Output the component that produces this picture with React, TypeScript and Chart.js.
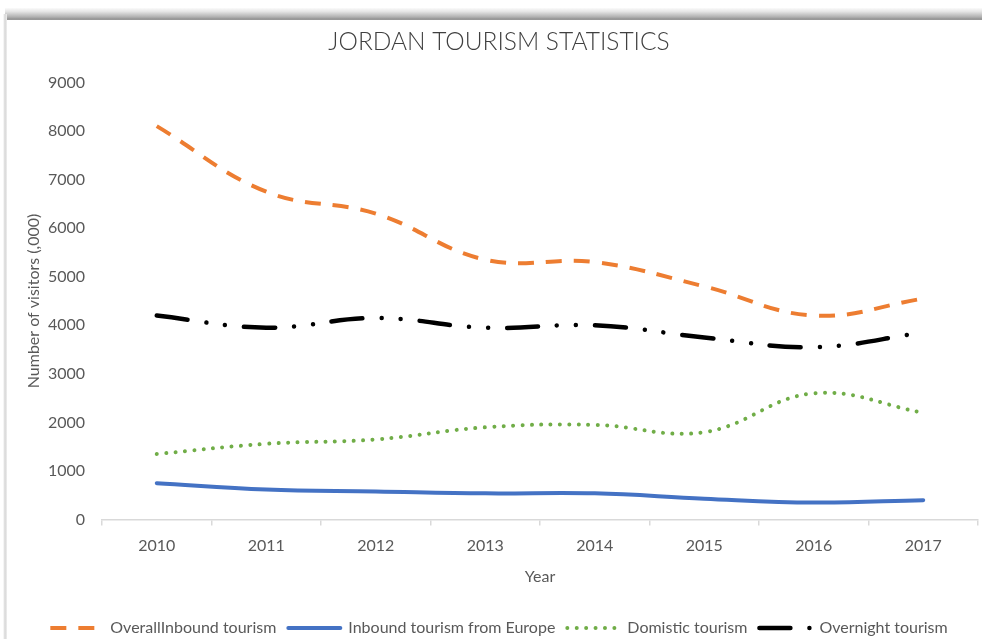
import { useEffect, useRef } from "react";
import { Chart, registerables } from "chart.js";

Chart.register(...registerables);

const years = ["2010", "2011", "2012", "2013", "2014", "2015", "2016", "2017"];
const overallInbound = [8100, 6750, 6300, 5350, 5300, 4800, 4200, 4550];
const inboundEurope = [750, 620, 580, 540, 540, 430, 350, 400];
const domestic = [1350, 1560, 1650, 1900, 1950, 1800, 2600, 2200];
const overnight = [4200, 3950, 4150, 3950, 4000, 3750, 3550, 3850];

const seriesLabels = [
  "OverallInbound tourism",
  "Inbound tourism from Europe",
  "Domistic tourism",
  "Overnight tourism",
];

const FONT = "Lato, 'Open Sans', sans-serif";
const GREY = "#595959";

export default function App() {
  const ref = useRef<HTMLCanvasElement>(null);

  useEffect(() => {
    if (!ref.current) return;
    const defaultGen = (Chart as any).defaults.plugins.legend.labels.generateLabels;
    const chart = new Chart(ref.current, {
      type: "line",
      data: {
        labels: years,
        datasets: [
          {
            label: seriesLabels[0],
            data: overallInbound,
            borderColor: "#ED7D31",
            backgroundColor: "#ED7D31",
            borderWidth: 4,
            borderDash: [16, 12],
            borderCapStyle: "butt",
            tension: 0.4,
            pointRadius: 0,
          },
          {
            label: seriesLabels[1],
            data: inboundEurope,
            borderColor: "#4472C4",
            backgroundColor: "#4472C4",
            borderWidth: 4,
            borderCapStyle: "round",
            tension: 0.4,
            pointRadius: 0,
          },
          {
            label: seriesLabels[2],
            data: domestic,
            borderColor: "#70AD47",
            backgroundColor: "#70AD47",
            borderWidth: 4,
            borderDash: [0.01, 9.4],
            borderCapStyle: "round",
            tension: 0.4,
            pointRadius: 0,
          },
          {
            label: seriesLabels[3],
            data: overnight,
            borderColor: "#000000",
            backgroundColor: "#000000",
            borderWidth: 4.5,
            borderDash: [31, 19, 0.01, 19, 0.01, 19],
            borderCapStyle: "round",
            tension: 0.4,
            pointRadius: 0,
          },
        ],
      },
      options: {
        responsive: false,
        animation: false,
        layout: { padding: { top: 20, left: 20, right: 4, bottom: -7 } },
        plugins: {
          title: {
            display: true,
            text: "JORDAN TOURISM STATISTICS",
            color: "#404040",
            font: { family: FONT, size: 24.5, weight: "300" as any },
            padding: { top: 7, bottom: 26 },
          },
          legend: {
            position: "bottom",
            labels: {
              usePointStyle: true,
              pointStyle: "line",
              pointStyleWidth: 52,
              color: GREY,
              font: { family: FONT, size: 16 },
              padding: 12,
              generateLabels: (c: any) =>
                defaultGen(c).map((l: any) => {
                  const ds: any = c.data.datasets[l.datasetIndex];
                  return {
                    ...l,
                    lineDash: ds.borderDash || [],
                    lineCap: ds.borderCapStyle || "butt",
                    lineWidth: ds.borderWidth,
                    strokeStyle: ds.borderColor,
                  };
                }),
            },
          },
          tooltip: { enabled: false },
        },
        scales: {
          x: {
            offset: true,
            grid: {
              display: true,
              offset: true,
              drawOnChartArea: false,
              drawTicks: true,
              tickLength: 6,
              color: "#d9d9d9",
              lineWidth: 1.5,
            },
            border: { display: true, color: "#d9d9d9", width: 1.5 },
            ticks: {
              color: GREY,
              font: { family: FONT, size: 16 },
              padding: 11,
            },
            title: {
              display: true,
              text: "Year",
              color: GREY,
              font: { family: FONT, size: 16 },
              padding: { top: 0, bottom: 22 },
            },
          },
          y: {
            min: 0,
            max: 9000,
            ticks: {
              stepSize: 1000,
              color: GREY,
              font: { family: FONT, size: 16 },
              padding: 17,
              callback: (v: any) => String(v),
            },
            grid: { display: false, drawTicks: false },
            border: { display: false },
            title: {
              display: true,
              text: "Number of visitors (,000)",
              color: GREY,
              font: { family: FONT, size: 16 },
              padding: { top: 4, bottom: 4 },
            },
            afterFit: (s: any) => {
              s.width = 82;
            },
          },
        },
      },
    });
    return () => chart.destroy();
  }, []);

  return (
    <div
      style={{
        position: "fixed",
        left: 0,
        top: 0,
        width: 982,
        height: 639,
        background: "#fff",
        overflow: "hidden",
      }}
    >
      <div
        style={{
          position: "absolute",
          left: 5,
          top: 8,
          right: 0,
          height: 12,
          background:
            "linear-gradient(#fbfbfb, #e4e4e4 30%, #b0b0b0 75%, #8e8e8e 95%, #c8c8c8)",
        }}
      />
      <div
        style={{
          position: "absolute",
          left: 3,
          top: 14,
          width: 4,
          bottom: 0,
          background: "linear-gradient(90deg, #ffffff, #d6d6d6, #efefef)",
        }}
      />
      <canvas
        ref={ref}
        width={982}
        height={639}
        style={{ position: "absolute", left: 0, top: 0, width: 982, height: 639 }}
      />
    </div>
  );
}
